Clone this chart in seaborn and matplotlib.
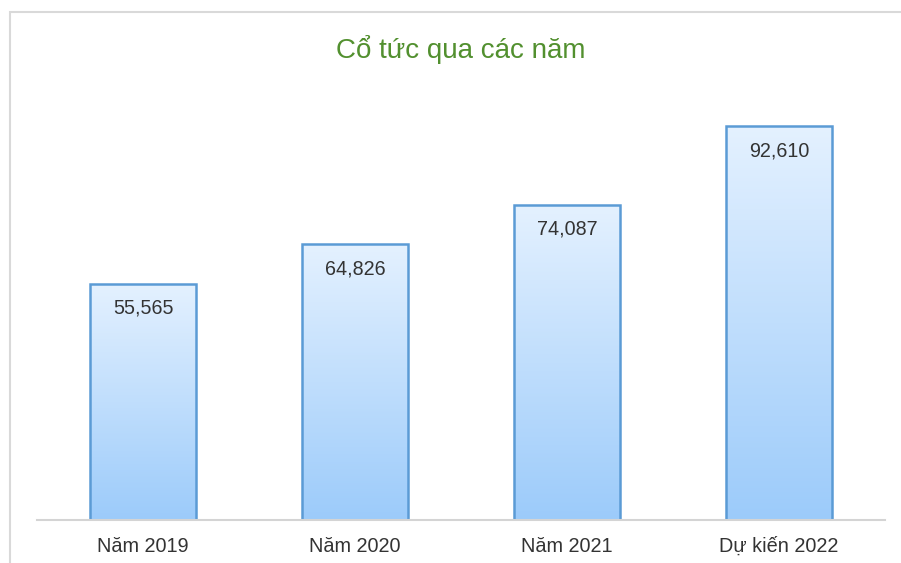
import numpy as np
import pandas as pd
import matplotlib
matplotlib.use("Agg")
import matplotlib.pyplot as plt
import seaborn as sns
from matplotlib.colors import LinearSegmentedColormap
from matplotlib.patches import Rectangle

# Data
categories = ["Năm 2019", "Năm 2020", "Năm 2021", "Dự kiến 2022"]
dividends = [55565, 64826, 74087, 92610]
value_labels = ["55,565", "64,826", "74,087", "92,610"]
title = "Cổ tức qua các năm"

df = pd.DataFrame({"year": categories, "value": dividends})

sns.set_theme(style="white")
plt.rcParams["font.family"] = ["Liberation Sans", "DejaVu Sans"]

fig = plt.figure(figsize=(9.01, 5.63), dpi=100)
ax = fig.add_axes([37 / 901, 43 / 563, 848 / 901, 425 / 563])

sns.barplot(data=df, x="year", y="value", ax=ax, width=0.5,
            facecolor="none", edgecolor="#5b9bd5", linewidth=1.8)

# Gradient fill inside each bar (light at top, blue at bottom)
grad_cmap = LinearSegmentedColormap.from_list("bar_grad", ["#9ccbfa", "#e4f1ff"])
grad = np.linspace(0, 1, 256).reshape(-1, 1)
for patch in ax.patches:
    x0, y0 = patch.get_x(), patch.get_y()
    w, h = patch.get_width(), patch.get_height()
    img = ax.imshow(grad, extent=[x0, x0 + w, y0, y0 + h], origin="lower",
                    aspect="auto", cmap=grad_cmap, zorder=patch.get_zorder() - 0.5)
    img.set_clip_path(patch)
    patch.set_zorder(patch.get_zorder() + 1)

ax.set_xlim(-0.5, 3.5)
ax.set_ylim(0, 100000)

# Value labels inside bars
for i, v in enumerate(dividends):
    ax.annotate(value_labels[i], (i, v), xytext=(0, -17.5), textcoords="offset points",
                ha="center", va="center", fontsize=14.2, color="#333333")

ax.set_xlabel("")
ax.set_ylabel("")
ax.set_yticks([])
ax.tick_params(axis="x", length=0, pad=12, labelsize=14.3, labelcolor="#333333")
for s in ["top", "left", "right"]:
    ax.spines[s].set_visible(False)
ax.spines["bottom"].set_color("#d4d4d4")
ax.spines["bottom"].set_linewidth(1.5)

fig.text(461 / 901, 1 - 58 / 563, title, ha="center", va="baseline",
         fontsize=20, color="#52902f")

# Outer frame
fig.patches.append(Rectangle((9.5 / 901, -0.1), 1.2, 1.1 - 12.5 / 563,
                             transform=fig.transFigure, fill=False,
                             edgecolor="#d9d9d9", linewidth=1.5))

fig.savefig("out.png", dpi=100)
